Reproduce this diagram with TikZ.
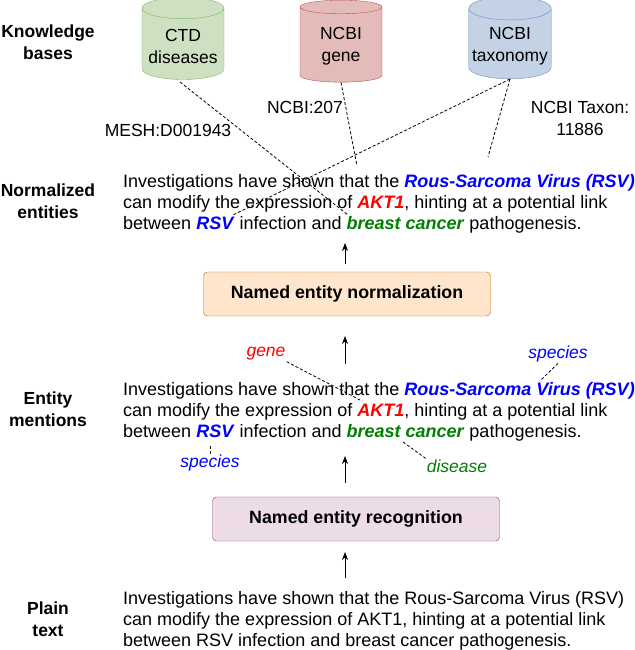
\documentclass[tikz,border=0pt]{standalone}
\usepackage{fontspec}
\setmainfont{Liberation Sans}
\usetikzlibrary{positioning, shapes.geometric, arrows.meta}
\definecolor{entblue}{HTML}{0000FF}
\definecolor{entred}{HTML}{FF0000}
\definecolor{entgreen}{HTML}{007F00}
\definecolor{dbgreen}{HTML}{82B366}
\definecolor{dbred}{HTML}{B85450}
\definecolor{dbblue}{HTML}{6C8EBF}
\newcommand{\ebl}[1]{\textcolor{entblue}{\textbf{\textit{#1}}}}
\newcommand{\erd}[1]{\textcolor{entred}{\textbf{\textit{#1}}}}
\newcommand{\egr}[1]{\textcolor{entgreen}{\textbf{\textit{#1}}}}
\tikzset{
  side/.style={font=\fontsize{17.5}{22}\selectfont\bfseries, align=center},
  line/.style={anchor=base west, inner sep=0pt, font=\fontsize{18}{21}\selectfont},
  db/.style={cylinder, shape border rotate=90, aspect=0.28, draw=#1, fill=#1!40,
    minimum width=82, minimum height=82, font=\fontsize{17.5}{22}\selectfont, align=center},
  stage/.style={draw, rounded corners=4pt, minimum width=287, minimum height=44,
    font=\fontsize{17.8}{22}\selectfont\bfseries},
  tag/.style={font=\fontsize{17.5}{22}\selectfont\itshape, inner sep=1pt},
  idl/.style={font=\fontsize{17.5}{22}\selectfont, align=center},
  link/.style={densely dashed, thick},
  up/.style={-{Stealth[length=8pt,width=6pt]}, thick}
}
\begin{document}
\begin{tikzpicture}[x=1pt, y=-1pt]
\useasboundingbox (0,0) rectangle (634,650);

% side labels
\node[side] (kb) at (48,42) {Knowledge\\bases};
\node[side] (ne) at (48,201) {Normalized\\entities};
\node[side] (em) at (48,409) {Entity\\mentions};
\node[side] (pt) at (48,619) {Plain\\text};

% knowledge bases
\node[db=dbgreen] (ctd) at (183,46) {CTD\\diseases};
\node[db=dbred] (gene) at (341,46) {NCBI\\gene};
\node[db=dbblue] (tax) at (510,46) {NCBI\\taxonomy};

\node[idl] (mesh) at (168,130) {MESH:D001943};
\node[idl] (ncbi) at (305,107) {NCBI:207};
\node[idl] (taxid) at (580,118) {NCBI Taxon:\\11886};

% normalized entities
\node[line] (n1) at (123,187) {Investigations have shown that the \ebl{Rous-Sarcoma Virus (RSV)}};
\node[line] (n2) at (123,208) {can modify the expression of \erd{AKT1}, hinting at a potential link};
\node[line] (n3) at (123,229) {between \ebl{RSV} infection and \egr{breast cancer} pathogenesis.};

\coordinate (cd) at (180,82);
\coordinate (nd) at (348,215);
\coordinate (ng) at (357,166);
\coordinate (nr) at (233,215);
\coordinate (nv) at (488,157);
\draw[link] (cd) -- (nd);
\draw[link] (gene.south) -- (ng);
\draw[link] (tax.south) -- (nr);
\draw[link] (tax.south) -- (nv);

\node[stage, fill=orange!20, draw=orange!80!black] (norm) at (347,294) {Named entity normalization};

% entity mentions
\node[line] (m1) at (123,395) {Investigations have shown that the \ebl{Rous-Sarcoma Virus (RSV)}};
\node[line] (m2) at (123,416) {can modify the expression of \erd{AKT1}, hinting at a potential link};
\node[line] (m3) at (123,437) {between \ebl{RSV} infection and \egr{breast cancer} pathogenesis.};

\node[tag, text=entred] (tgene) at (266,354) {gene};
\node[tag, text=entblue] (tsp1) at (558,354) {species};
\node[tag, text=entblue] (tsp2) at (210,463) {species};
\node[tag, text=entgreen] (tdis) at (457,466) {disease};
\coordinate (mg) at (360,400);
\coordinate (ms1) at (540,381);
\coordinate (ms2) at (210,445);
\coordinate (md) at (403,442);
\draw[link] (tgene.south east) -- (mg);
\draw[link] (tsp1.south) -- (ms1);
\draw[link] (tsp2.north) -- (ms2);
\draw[link] (tdis.north west) -- (md);

\node[stage, fill=magenta!50!black!15!white, draw=magenta!40!black] (ner) at (356,519) {Named entity recognition};

% plain text
\node[line] (p1) at (123,604) {Investigations have shown that the Rous-Sarcoma Virus (RSV)};
\node[line] (p2) at (123,625) {can modify the expression of AKT1, hinting at a potential link};
\node[line] (p3) at (123,646) {between RSV infection and breast cancer pathogenesis.};

% arrows
\coordinate (a1) at (345,578); \coordinate (b1) at (345,552);
\coordinate (a2) at (345,483); \coordinate (b2) at (345,456);
\coordinate (a3) at (345,364); \coordinate (b3) at (345,336);
\coordinate (a4) at (345,264); \coordinate (b4) at (345,243);
\draw[up] (a1) -- (b1);
\draw[up] (a2) -- (b2);
\draw[up] (a3) -- (b3);
\draw[up] (a4) -- (b4);
\end{tikzpicture}
\end{document}
